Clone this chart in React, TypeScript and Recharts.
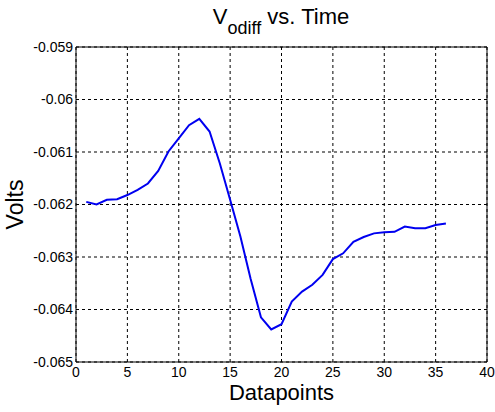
import React from "react";
import {
  LineChart,
  Line,
  XAxis,
  YAxis,
  CartesianGrid,
  ReferenceLine,
} from "recharts";

const datapoints = [
  1, 2, 3, 4, 5, 6, 7, 8, 9, 10, 11, 12, 13, 14, 15, 16, 17, 18, 19, 20, 21,
  22, 23, 24, 25, 26, 27, 28, 29, 30, 31, 32, 33, 34, 35, 36,
];

const volts = [
  -0.06195, -0.062, -0.06191, -0.0619, -0.06182, -0.06172, -0.0616, -0.06136,
  -0.06099, -0.06074, -0.06049, -0.06037, -0.06061, -0.06122, -0.06191,
  -0.06261, -0.06342, -0.06415, -0.06438, -0.06428, -0.06385, -0.06366,
  -0.06353, -0.06334, -0.06304, -0.06293, -0.06271, -0.06262, -0.06255,
  -0.06253, -0.06252, -0.06242, -0.06245, -0.06245, -0.06239, -0.06236,
];

const xTicks = [0, 5, 10, 15, 20, 25, 30, 35, 40];
const yTicks = [-0.065, -0.064, -0.063, -0.062, -0.061, -0.06, -0.059];

const data = datapoints.map((x, i) => ({ x, v: volts[i] }));

const FONT = "'Liberation Sans', Arial, sans-serif";

export default function App() {
  return (
    <div style={{ position: "absolute", left: 0, top: 0, width: 495, height: 412, background: "#fff" }}>
      <LineChart
        width={495}
        height={412}
        data={data}
        margin={{ top: 47, right: 8, bottom: 0, left: 0 }}
      >
        <CartesianGrid stroke="#000" strokeDasharray="3 3" />
        <XAxis
          dataKey="x"
          type="number"
          domain={[0, 40]}
          ticks={xTicks}
          height={50}
          tickSize={0}
          tickMargin={5}
          stroke="#000"
          tick={{ fill: "#000", fontSize: 14, fontFamily: FONT }}
          label={{
            value: "Datapoints",
            position: "insideBottom",
            offset: 12,
            fill: "#000",
            fontSize: 22,
            fontFamily: FONT,
          }}
        />
        <YAxis
          type="number"
          domain={[-0.065, -0.059]}
          ticks={yTicks}
          width={76}
          tickSize={0}
          tickMargin={3}
          stroke="#000"
          tick={{ fill: "#000", fontSize: 14, fontFamily: FONT }}
          tickFormatter={(v: number) => String(Number(v.toFixed(3)))}
          label={{
            value: "Volts",
            angle: -90,
            position: "insideLeft",
            offset: 15,
            fill: "#000",
            fontSize: 23,
            fontFamily: FONT,
            style: { textAnchor: "middle" },
          }}
        />
        <ReferenceLine y={-0.059} stroke="#000" />
        <ReferenceLine x={40} stroke="#000" />
        <Line
          dataKey="v"
          type="linear"
          stroke="#0000f0"
          strokeWidth={2}
          dot={false}
          isAnimationActive={false}
        />
      </LineChart>
      <svg
        width={495}
        height={45}
        style={{ position: "absolute", left: 0, top: 0 }}
      >
        <text x={281} y={24} textAnchor="middle" fontFamily={FONT} fill="#000">
          <tspan fontSize={22}>V</tspan>
          <tspan fontSize={18} dy={10}>odiff</tspan>
          <tspan fontSize={22} dy={-10}> vs. Time</tspan>
        </text>
      </svg>
    </div>
  );
}
